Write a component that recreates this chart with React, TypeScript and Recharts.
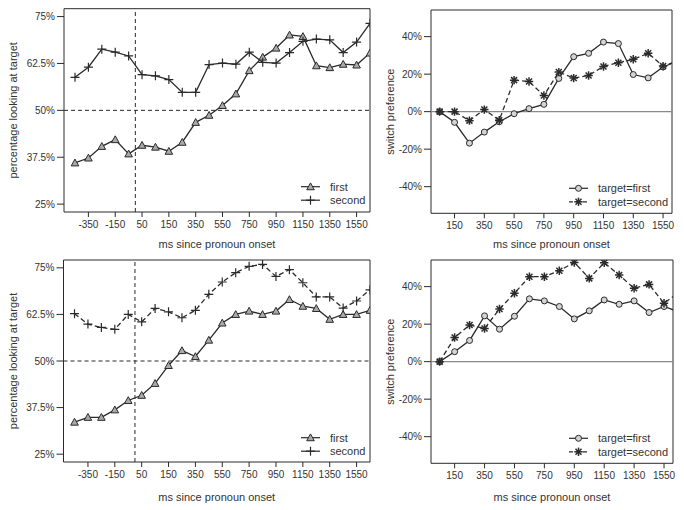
import React from 'react';
import { LineChart, Line, XAxis, YAxis, ReferenceLine, ReferenceArea } from 'recharts';

// bin positions (index along the time axis) and the labels printed under them
const leftTickIdx = [1, 3, 5, 7, 9, 11, 13, 15, 17, 19, 21];
const leftTickLabels = ['-350', '-150', '50', '150', '350', '550', '750', '950', '1150', '1350', '1550'];
const rightTickIdx = [1, 3, 5, 7, 9, 11, 13, 15];
const rightTickLabels = ['150', '350', '550', '750', '950', '1150', '1350', '1550'];

const pctTicks = [25, 37.5, 50, 62.5, 75];
const switchTicks = [-40, -20, 0, 20, 40];

// percentage looking at target, upper row
const topFirst = [36.0, 37.3, 40.4, 42.2, 38.4, 40.7, 40.2, 39.1, 41.5, 46.8, 48.7, 51.3, 54.4, 60.6, 64.2, 66.6, 70.1, 69.7, 61.9, 61.4, 62.3, 62.1, 65.3];
const topSecond = [58.8, 61.5, 66.3, 65.5, 64.5, 59.5, 59.2, 58.2, 54.8, 54.8, 62.2, 62.6, 62.3, 65.5, 62.8, 62.6, 65.4, 68.4, 69.0, 68.8, 65.4, 68.2, 73.2];
// percentage looking at target, lower row
const botFirst = [33.6, 34.9, 34.9, 36.9, 39.4, 40.8, 44.0, 48.8, 52.8, 51.2, 55.6, 60.2, 62.5, 63.4, 62.5, 63.4, 66.5, 64.7, 64.1, 61.2, 62.5, 62.5, 63.6];
const botSecond = [62.7, 59.9, 59.0, 58.5, 62.5, 60.5, 64.1, 63.2, 61.6, 63.6, 67.9, 71.2, 73.7, 75.4, 75.9, 72.7, 74.5, 71.0, 67.2, 67.2, 64.2, 66.1, 69.1];

// switch preference
const topSwFirst = [0, -5.7, -16.8, -10.9, -5.4, -1.1, 1.6, 3.9, 17.7, 29.3, 31.1, 37.1, 36.3, 19.8, 18.0, 23.8, 27.0];
const topSwSecond = [0, 0, -4.8, 1.1, -4.6, 16.8, 16.1, 8.6, 21.1, 17.9, 19.3, 24.1, 26.1, 27.9, 31.1, 24.3, 27.0];
const botSwFirst = [0, 5.3, 11.3, 24.4, 17.3, 24.2, 33.5, 32.4, 29.4, 22.8, 27.1, 32.9, 30.6, 32.4, 26.2, 29.4, 26.5];
const botSwSecond = [0, 12.9, 19.5, 17.7, 28.1, 36.5, 45.3, 45.3, 48.5, 52.9, 44.4, 52.7, 46.2, 39.1, 41.2, 31.1, 37.0];

const INK = '#2a2a2a';
const TXT = '#333';
const FONT = '"Liberation Sans", Arial, Helvetica, sans-serif';

const rows = (a: number[], b: number[]) => a.map((v, i) => ({ i, first: v, second: b[i] }));

function Tri({ cx, cy }: any) {
  const s = 3.8;
  return <polygon points={`${cx},${cy - s} ${cx - s},${cy + s * 0.8} ${cx + s},${cy + s * 0.8}`} fill="#a9a9a9" stroke={INK} strokeWidth={1} />;
}
function Plus({ cx, cy }: any) {
  const s = 4.5;
  return (
    <g stroke={INK} strokeWidth={1.2}>
      <line x1={cx - s} y1={cy} x2={cx + s} y2={cy} />
      <line x1={cx} y1={cy - s} x2={cx} y2={cy + s} />
    </g>
  );
}
function Circ({ cx, cy }: any) {
  return <circle cx={cx} cy={cy} r={3} fill="#d4d4d4" stroke={INK} strokeWidth={1} />;
}
function Star({ cx, cy }: any) {
  const s = 4.2, d = 3;
  return (
    <g stroke={INK} strokeWidth={1.5}>
      <line x1={cx - s} y1={cy} x2={cx + s} y2={cy} />
      <line x1={cx} y1={cy - s} x2={cx} y2={cy + s} />
      <line x1={cx - d} y1={cy - d} x2={cx + d} y2={cy + d} />
      <line x1={cx - d} y1={cy + d} x2={cx + d} y2={cy - d} />
    </g>
  );
}

type PanelProps = {
  left: number;
  top: number;
  width: number;
  margin: { top: number; right: number; left: number; bottom: number };
  yWidth: number;
  xHeight: number;
  data: { i: number; first: number; second: number }[];
  xDomain: [number, number];
  xTicks: number[];
  xLabels: string[];
  yDomain: [number, number];
  yTicks: number[];
  yTitle: string;
  kind: 'pct' | 'switch';
  secondDashed: boolean;
  legend: { x: number; y: number };
  xTitleY: number;
};

function Panel(p: PanelProps) {
  const H = 250;
  const plotLeft = p.margin.left + p.yWidth;
  const plotRight = p.width - p.margin.right;
  const plotTop = p.margin.top;
  const plotBottom = H - p.margin.bottom - p.xHeight;
  const FirstDot = p.kind === 'pct' ? Tri : Circ;
  const SecondDot = p.kind === 'pct' ? Plus : Star;
  const firstName = p.kind === 'pct' ? 'first' : 'target=first';
  const secondName = p.kind === 'pct' ? 'second' : 'target=second';
  const legendSecondDash = p.kind === 'pct' ? undefined : '4 3';
  const lx = p.legend.x;
  const ty = p.kind === 'pct' ? 13 : 20.5;
  const tyMid = (plotTop + plotBottom) / 2;
  return (
    <div style={{ position: 'absolute', left: p.left, top: p.top, width: p.width, height: H }}>
      <LineChart width={p.width} height={H} data={p.data} margin={p.margin}>
        <XAxis
          type="number"
          dataKey="i"
          domain={p.xDomain}
          allowDataOverflow
          ticks={p.xTicks}
          interval={0}
          tickFormatter={(v: number) => p.xLabels[p.xTicks.indexOf(v)] ?? ''}
          height={p.xHeight}
          axisLine={false}
          tickLine={{ stroke: INK }}
          tickSize={5}
          tickMargin={4}
          tick={{ fill: TXT, fontSize: 10, fontFamily: FONT }}
        />
        <YAxis
          type="number"
          domain={p.yDomain}
          allowDataOverflow
          ticks={p.yTicks}
          interval={0}
          tickFormatter={(v: number) => `${v}%`}
          width={p.yWidth}
          axisLine={false}
          tickLine={{ stroke: INK }}
          tickSize={7}
          tickMargin={2}
          tick={{ fill: TXT, fontSize: 10, fontFamily: FONT }}
        />
        {p.kind === 'pct' ? (
          <ReferenceLine y={50} stroke={INK} strokeDasharray="4 3" strokeWidth={1} />
        ) : (
          <ReferenceLine y={0} stroke="#8a8a8a" strokeWidth={1.3} />
        )}
        {p.kind === 'pct' && <ReferenceLine x={4.5} stroke={INK} strokeDasharray="4 3" strokeWidth={1} />}
        <Line
          type="linear"
          dataKey="first"
          stroke={INK}
          strokeWidth={1.3}
          isAnimationActive={false}
          activeDot={false}
          dot={(d: any) => <FirstDot key={`f-${d.index}`} cx={d.cx} cy={d.cy} />}
        />
        <Line
          type="linear"
          dataKey="second"
          stroke={INK}
          strokeWidth={1.3}
          strokeDasharray={p.secondDashed ? '5 3' : undefined}
          isAnimationActive={false}
          activeDot={false}
          dot={(d: any) => <SecondDot key={`s-${d.index}`} cx={d.cx} cy={d.cy} />}
        />
        <ReferenceArea
          x1={p.xDomain[0]}
          x2={p.xDomain[1]}
          y1={p.yDomain[0]}
          y2={p.yDomain[1]}
          fill="none"
          fillOpacity={0}
          stroke={INK}
          strokeWidth={1}
          ifOverflow="visible"
        />
      </LineChart>
      <svg width={p.width} height={H + 12} style={{ position: 'absolute', left: 0, top: 0, pointerEvents: 'none', overflow: 'visible' }}>
        <text x={(plotLeft + plotRight) / 2} y={p.xTitleY} textAnchor="middle" dominantBaseline="central" fontSize={11} fontFamily={FONT} fill={TXT}>
          ms since pronoun onset
        </text>
        <text
          x={ty}
          y={tyMid}
          textAnchor="middle"
          dominantBaseline="central"
          fontSize={11}
          fontFamily={FONT}
          fill={TXT}
          transform={`rotate(-90, ${ty}, ${tyMid})`}
        >
          {p.yTitle}
        </text>
        <line x1={lx} y1={p.legend.y} x2={lx + 19} y2={p.legend.y} stroke={INK} strokeWidth={1.2} />
        <FirstDot cx={lx + 9.5} cy={p.legend.y} />
        <text x={lx + 29} y={p.legend.y} dominantBaseline="central" fontSize={11} fontFamily={FONT} fill={TXT}>
          {firstName}
        </text>
        <line x1={lx} y1={p.legend.y + 13.5} x2={lx + 19} y2={p.legend.y + 13.5} stroke={INK} strokeWidth={1.2} strokeDasharray={legendSecondDash} />
        <SecondDot cx={lx + 9.5} cy={p.legend.y + 13.5} />
        <text x={lx + 29} y={p.legend.y + 13.5} dominantBaseline="central" fontSize={11} fontFamily={FONT} fill={TXT}>
          {secondName}
        </text>
      </svg>
    </div>
  );
}

export default function App() {
  return (
    <div style={{ position: 'absolute', left: 0, top: 0, width: 684, height: 510, background: '#fff', overflow: 'hidden' }}>
      <Panel
        left={0}
        top={0}
        width={380}
        margin={{ top: 8.7, right: 10, left: 0, bottom: 0 }}
        yWidth={64}
        xHeight={38}
        data={rows(topFirst, topSecond)}
        xDomain={[-0.82, 22]}
        xTicks={leftTickIdx}
        xLabels={leftTickLabels}
        yDomain={[22.9, 77.1]}
        yTicks={pctTicks}
        yTitle="percentage looking at target"
        kind="pct"
        secondDashed={false}
        legend={{ x: 301, y: 186.7 }}
        xTitleY={244}
      />
      <Panel
        left={370}
        top={0}
        width={314}
        margin={{ top: 10, right: 12, left: 0, bottom: 0 }}
        yWidth={61}
        xHeight={36.7}
        data={rows(topSwFirst, topSwSecond)}
        xDomain={[-0.58, 15.6]}
        xTicks={rightTickIdx}
        xLabels={rightTickLabels}
        yDomain={[-54.2, 54.2]}
        yTicks={switchTicks}
        yTitle="switch preference"
        kind="switch"
        secondDashed={true}
        legend={{ x: 199, y: 188.3 }}
        xTitleY={244}
      />
      <Panel
        left={0}
        top={250}
        width={380}
        margin={{ top: 10, right: 10, left: 0, bottom: 0 }}
        yWidth={63.5}
        xHeight={38}
        data={rows(botFirst, botSecond)}
        xDomain={[-0.82, 22]}
        xTicks={leftTickIdx}
        xLabels={leftTickLabels}
        yDomain={[22.9, 77.1]}
        yTicks={pctTicks}
        yTitle="percentage looking at target"
        kind="pct"
        secondDashed={true}
        legend={{ x: 301, y: 187.7 }}
        xTitleY={247}
      />
      <Panel
        left={370}
        top={250}
        width={314}
        margin={{ top: 10, right: 11, left: 0, bottom: 0 }}
        yWidth={61}
        xHeight={36.7}
        data={rows(botSwFirst, botSwSecond)}
        xDomain={[-0.58, 15.6]}
        xTicks={rightTickIdx}
        xLabels={rightTickLabels}
        yDomain={[-54.2, 54.2]}
        yTicks={switchTicks}
        yTitle="switch preference"
        kind="switch"
        secondDashed={true}
        legend={{ x: 199, y: 188.3 }}
        xTitleY={247}
      />
    </div>
  );
}
